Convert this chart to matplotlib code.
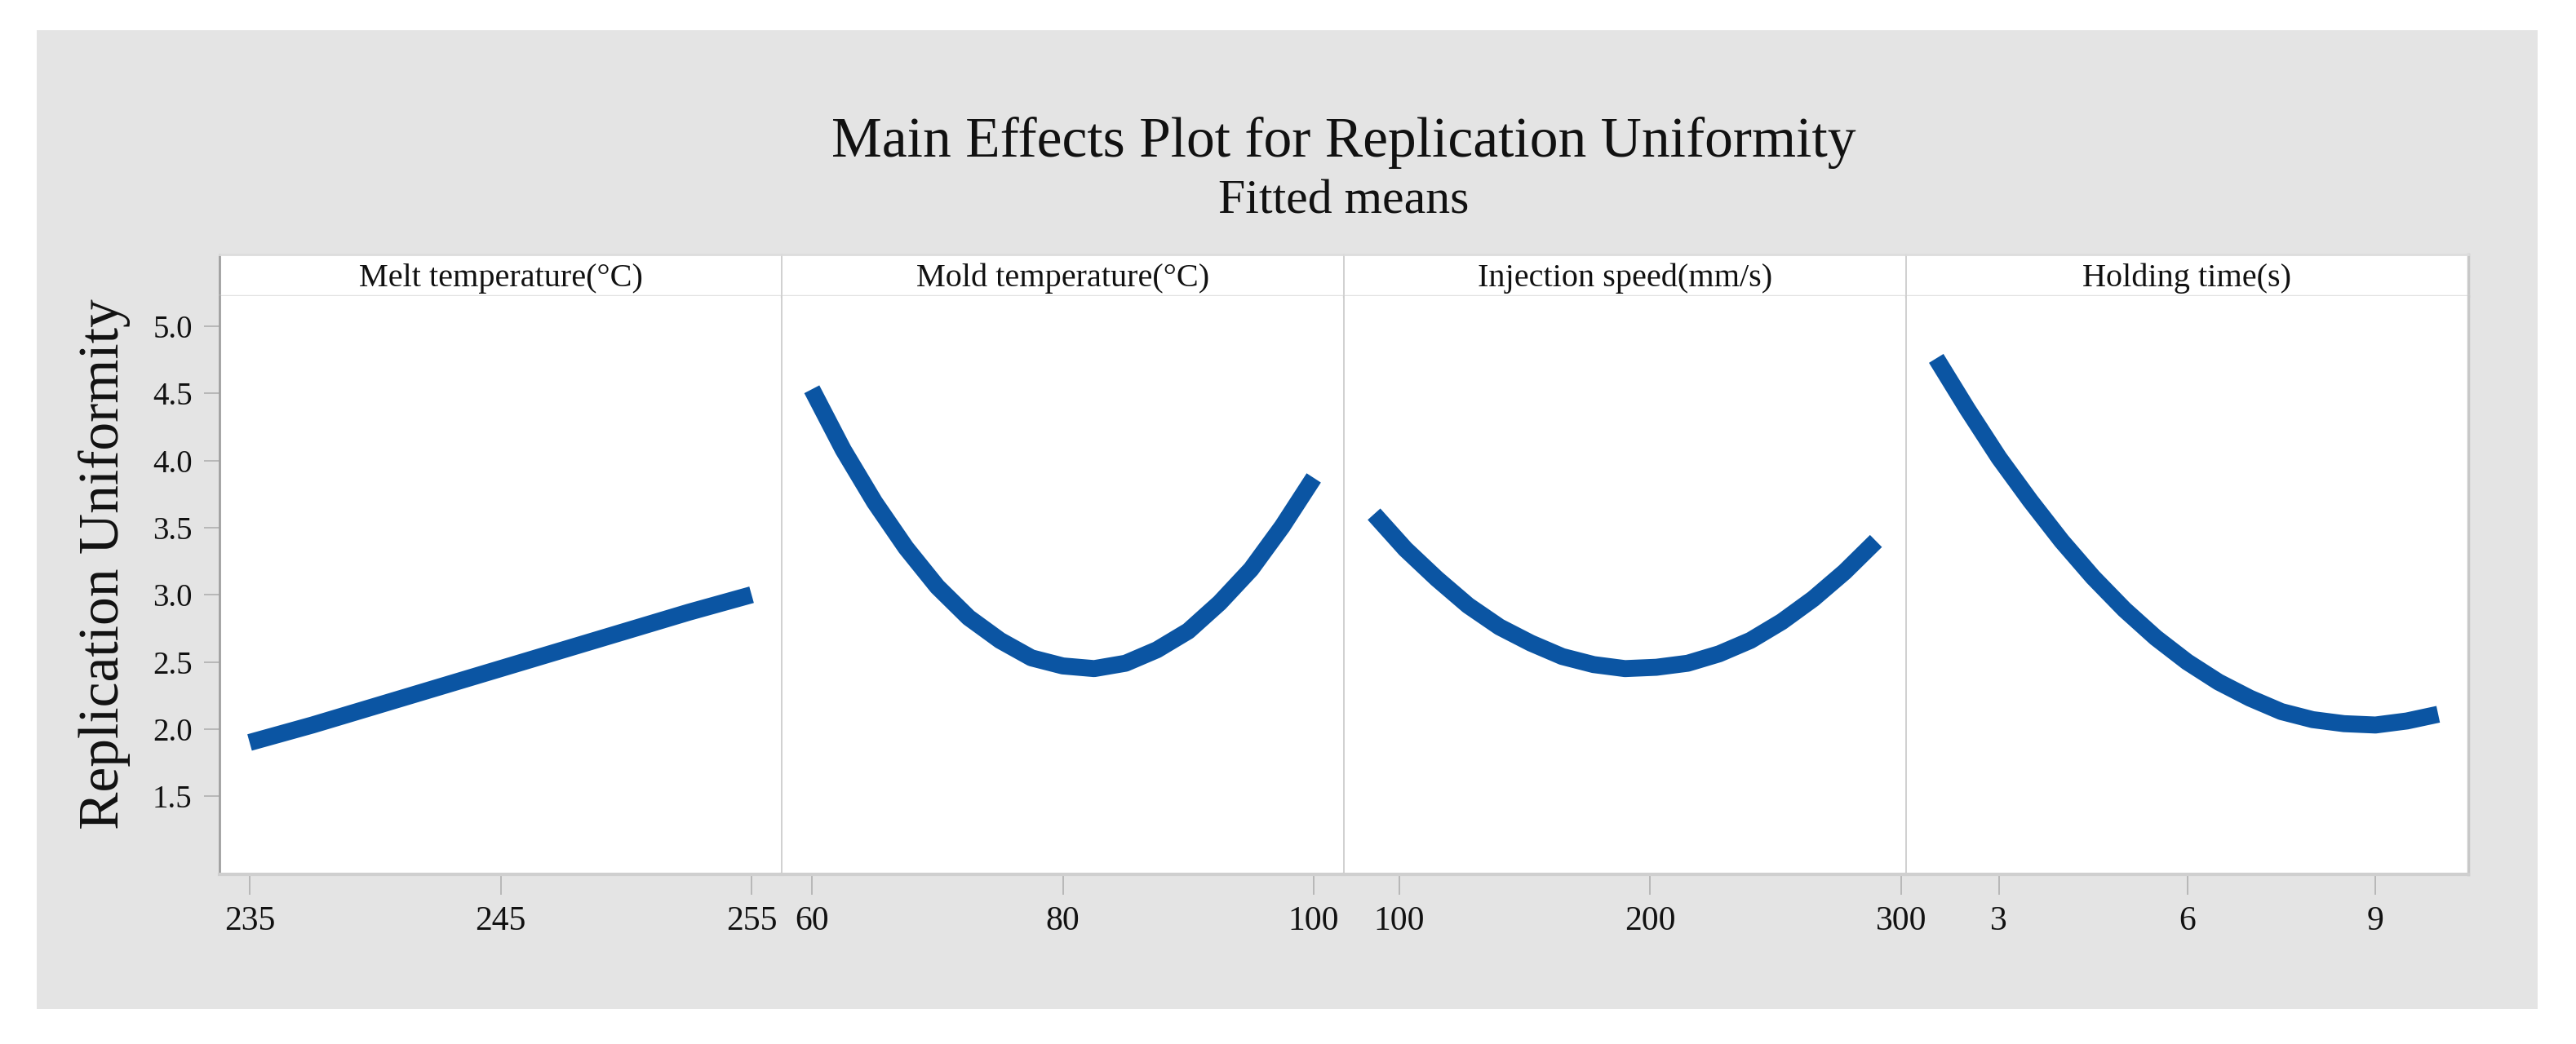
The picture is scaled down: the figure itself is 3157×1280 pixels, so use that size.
import matplotlib
matplotlib.use("Agg")
import matplotlib.pyplot as plt
from matplotlib.patches import Rectangle

# ---------------- data ----------------
title = "Main Effects Plot for Replication Uniformity"
subtitle = "Fitted means"
ylabel = "Replication Uniformity"
factor_names = ["Melt temperature(\u00b0C)", "Mold temperature(\u00b0C)",
                "Injection speed(mm/s)", "Holding time(s)"]

melt_x = [235, 237.5, 240, 242.5, 245, 247.5, 250, 252.5, 255]
melt_y = [1.90, 2.03, 2.17, 2.31, 2.45, 2.59, 2.73, 2.87, 3.00]

mold_x = [60, 62.5, 65, 67.5, 70, 72.5, 75, 77.5, 80, 82.5, 85, 87.5, 90,
          92.5, 95, 97.5, 100]
mold_y = [4.53, 4.08, 3.69, 3.35, 3.06, 2.83, 2.66, 2.53, 2.47, 2.45, 2.49,
          2.59, 2.73, 2.94, 3.19, 3.51, 3.87]

inj_x = [90, 102.5, 115, 127.5, 140, 152.5, 165, 177.5, 190, 202.5, 215,
         227.5, 240, 252.5, 265, 277.5, 290]
inj_y = [3.60, 3.34, 3.12, 2.92, 2.76, 2.64, 2.54, 2.48, 2.45, 2.46, 2.49,
         2.56, 2.66, 2.80, 2.97, 3.17, 3.40]

hold_x = [2, 2.5, 3, 3.5, 4, 4.5, 5, 5.5, 6, 6.5, 7, 7.5, 8, 8.5, 9, 9.5, 10]
hold_y = [4.76, 4.38, 4.02, 3.70, 3.40, 3.13, 2.89, 2.68, 2.50, 2.35, 2.23,
          2.13, 2.07, 2.04, 2.03, 2.06, 2.11]

xs = [melt_x, mold_x, inj_x, hold_x]
ys = [melt_y, mold_y, inj_y, hold_y]
xticks = [[235, 245, 255], [60, 80, 100], [100, 200, 300], [3, 6, 9]]
yticks = [1.5, 2.0, 2.5, 3.0, 3.5, 4.0, 4.5, 5.0]
ytick_labels = ["1.5", "2.0", "2.5", "3.0", "3.5", "4.0", "4.5", "5.0"]

# ---------------- figure ----------------
W, H = 3157, 1280
fig = plt.figure(figsize=(W / 100, H / 100), dpi=100, facecolor="white")
SERIF = ["Liberation Serif", "DejaVu Serif"]

def fx(px):
    return px / W

def fy(py):
    return 1 - py / H

# gray background panel
fig.patches.append(Rectangle((fx(45), fy(1237)), fx(3110) - fx(45), fy(37) - fy(1237),
                             transform=fig.transFigure, facecolor="#e4e4e4",
                             edgecolor="none", zorder=-10))

fig.text(fx(1647), fy(192), title, ha="center", va="baseline", fontsize=50,
         family=SERIF, color="#111111")
fig.text(fx(1647), fy(262), subtitle, ha="center", va="baseline", fontsize=43,
         family=SERIF, color="#111111")

left0, right0 = 269, 3025
top_hdr, top_data, bottom = 312, 363, 1072
pw = (right0 - left0) / 4

line_color = "#0b55a3"
ymin, ymax = 0.918, 5.224

for i in range(4):
    l = left0 + i * pw
    # header
    axh = fig.add_axes([fx(l), fy(top_data), pw / W, (top_data - top_hdr) / H])
    axh.set_facecolor("white")
    axh.set_xticks([]); axh.set_yticks([])
    for s in axh.spines.values():
        s.set_visible(False)
    axh.spines["bottom"].set_visible(True)
    axh.spines["bottom"].set_color("#e2e2e2")
    axh.spines["bottom"].set_linewidth(2.5)
    axh.spines["top"].set_visible(True)
    axh.spines["top"].set_color("#dddddd")
    axh.spines["top"].set_linewidth(2)
    axh.spines["left"].set_visible(True)
    axh.spines["left"].set_color("#a0a0a0" if i == 0 else "#c8c8c8")
    axh.spines["left"].set_linewidth(2 if i == 0 else 1.2)
    if i == 3:
        axh.spines["right"].set_visible(True)
        axh.spines["right"].set_color("#c8c8c8")
        axh.spines["right"].set_linewidth(2.5)
    axh.text(0.5, 0.42, factor_names[i], transform=axh.transAxes, ha="center",
             va="center", fontsize=29, family=SERIF, color="#111111")

    # data axes
    ax = fig.add_axes([fx(l), fy(bottom), pw / W, (bottom - top_data) / H])
    ax.set_facecolor("white")
    x = xs[i]
    lo, hi = min(x), max(x)
    c, h = (lo + hi) / 2, (hi - lo) / 2 * 1.12
    ax.set_xlim(c - h, c + h)
    ax.set_ylim(ymin, ymax)
    ax.plot(x, ys[i], color=line_color, lw=15, solid_capstyle="butt",
            solid_joinstyle="round")
    ax.set_xticks(xticks[i])
    ax.set_xticklabels([str(t) for t in xticks[i]], fontsize=30, family=SERIF,
                       color="#111111")
    ax.tick_params(axis="x", length=18, width=1.2, color="#b0b0b0", pad=10)
    if i == 0:
        ax.set_yticks(yticks)
        ax.set_yticklabels(ytick_labels, fontsize=28, family=SERIF, color="#111111")
        ax.tick_params(axis="y", length=14, width=1.2, color="#b0b0b0", pad=10)
    else:
        ax.set_yticks([])
    for s in ["top", "right"]:
        ax.spines[s].set_visible(False)
    ax.spines["bottom"].set_color("#cfcfcf")
    ax.spines["bottom"].set_linewidth(3)
    ax.spines["left"].set_color("#a0a0a0" if i == 0 else "#c8c8c8")
    ax.spines["left"].set_linewidth(2 if i == 0 else 1.2)
    if i == 3:
        ax.spines["right"].set_visible(True)
        ax.spines["right"].set_color("#c8c8c8")
        ax.spines["right"].set_linewidth(2.5)

fig.text(fx(128), fy(692), ylabel, rotation=90, ha="center", va="center",
         fontsize=50, family=SERIF, color="#111111")

fig.savefig("out.png", dpi=100, facecolor="white")
